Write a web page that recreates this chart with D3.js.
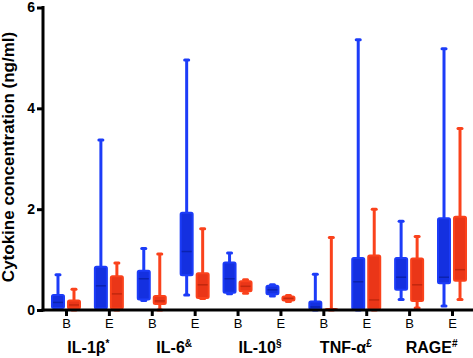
<!DOCTYPE html>
<html>
<head>
<meta charset="utf-8">
<script src="https://cdn.jsdelivr.net/npm/d3@7"></script>
<style>
  html, body { margin: 0; padding: 0; background: #fff; }
  svg { display: block; font-family: "Liberation Sans", Arial, sans-serif; }
</style>
</head>
<body>
<div id="chart"></div>
<script>
// categories and their footnote marks
const cytokines = ["IL-1β", "IL-6", "IL-10", "TNF-α", "RAGE"];
const marks = ["*", "&", "§", "£", "#"];
const timepoints = ["B", "E"];
const yTicks = [0, 2, 4, 6];

// box stats per position (cytokine x timepoint): [min, q1, median, q3, max], ng/ml
const blueStats = [
  [0.02, 0.04, 0.15, 0.30, 0.70],
  [0.01, 0.03, 0.48, 0.86, 3.37],
  [0.19, 0.21, 0.62, 0.78, 1.22],
  [0.30, 0.69, 1.16, 1.93, 4.96],
  [0.32, 0.34, 0.62, 0.94, 1.13],
  [0.28, 0.31, 0.40, 0.48, 0.50],
  [0.00, 0.02, 0.06, 0.17, 0.71],
  [0.00, 0.02, 0.56, 1.03, 5.36],
  [0.21, 0.40, 0.65, 1.03, 1.76],
  [0.08, 0.53, 0.65, 1.82, 5.18]
];
const redStats = [
  [0.00, 0.03, 0.10, 0.19, 0.41],
  [0.00, 0.03, 0.32, 0.67, 0.93],
  [0.00, 0.12, 0.18, 0.28, 1.11],
  [0.23, 0.24, 0.50, 0.73, 1.61],
  [0.33, 0.37, 0.47, 0.57, 0.60],
  [0.17, 0.19, 0.23, 0.27, 0.29],
  [0.00, 0.00, 0.01, 0.02, 1.44],
  [0.00, 0.02, 0.20, 1.08, 2.00],
  [0.04, 0.18, 0.50, 1.02, 1.46],
  [0.21, 0.58, 0.80, 1.85, 3.60]
];

const width = 473, height = 358;

const svg = d3.select("#chart")
  .append("svg")
  .attr("width", width)
  .attr("height", height);

// one position per cytokine/timepoint pair
const positions = [];
cytokines.forEach(c => timepoints.forEach(t => positions.push(c + "|" + t)));

const x = d3.scalePoint()
  .domain(positions)
  .range([43, 475])
  .padding(0.536);

const y = d3.scaleLinear()
  .domain([0, 6])
  .range([310, 7.5]);

const series = [
  {name: "blue", stats: blueStats, dx: -8, stroke: "#1c3cf8", fill: "#1430e0", med: "#0b22b0"},
  {name: "red", stats: redStats, dx: 8, stroke: "#fa421c", fill: "#ea3618", med: "#c2280e"}
];

const boxW = 12, capW = 4;

series.forEach(s => {
  const g = svg.append("g").attr("class", "series-" + s.name);
  const rows = s.stats.map((d, i) => ({pos: positions[i], v: d}));

  const grp = g.selectAll("g")
    .data(rows)
    .join("g")
    .attr("transform", d => `translate(${x(d.pos) + s.dx},0)`);

  // whisker
  grp.append("line")
    .attr("x1", 0).attr("x2", 0)
    .attr("y1", d => y(d.v[0]))
    .attr("y2", d => y(d.v[4]))
    .attr("stroke", s.stroke)
    .attr("stroke-width", 3);

  // caps
  grp.selectAll("line.cap")
    .data(d => [d.v[0], d.v[4]])
    .join("line")
    .attr("class", "cap")
    .attr("x1", -capW / 2).attr("x2", capW / 2)
    .attr("y1", v => y(v)).attr("y2", v => y(v))
    .attr("stroke", s.stroke)
    .attr("stroke-width", 3)
    .attr("stroke-linecap", "round");

  // box
  grp.append("rect")
    .attr("x", -boxW / 2)
    .attr("width", boxW)
    .attr("y", d => y(d.v[3]))
    .attr("height", d => Math.max(0.5, y(d.v[1]) - y(d.v[3])))
    .attr("rx", 1.5)
    .attr("fill", s.fill)
    .attr("stroke", s.stroke)
    .attr("stroke-width", 2);

  // median
  grp.append("line")
    .attr("x1", -boxW / 2 + 1).attr("x2", boxW / 2 - 1)
    .attr("y1", d => y(d.v[2])).attr("y2", d => y(d.v[2]))
    .attr("stroke", s.med)
    .attr("stroke-width", 1.5);
});

// y axis
const yAxis = svg.append("g")
  .attr("transform", "translate(43,0)")
  .call(d3.axisLeft(y).tickValues(yTicks).tickFormat(d3.format("d"))
    .tickSize(6).tickSizeOuter(0).tickPadding(2));
yAxis.select(".domain").attr("stroke-width", 3).attr("d", "M0,6V311.5");
yAxis.selectAll(".tick line").attr("stroke-width", 3);
yAxis.selectAll(".tick text")
  .attr("font-size", 14)
  .attr("font-weight", "bold")
  .attr("font-family", "Liberation Sans, Arial, sans-serif")
  .attr("fill", "#000");

// x axis
const xAxis = svg.append("g")
  .attr("transform", "translate(0,310)")
  .call(d3.axisBottom(x).tickSize(6).tickSizeOuter(0).tickPadding(3)
    .tickFormat(d => d.split("|")[1]));
xAxis.select(".domain").attr("stroke-width", 3).attr("d", "M41.5,0H475");
xAxis.selectAll(".tick line").attr("stroke-width", 3);
xAxis.selectAll(".tick text")
  .attr("font-size", 13)
  .attr("font-family", "Liberation Sans, Arial, sans-serif")
  .attr("fill", "#000");

// cytokine group labels
const catLabels = svg.append("g")
  .selectAll("text")
  .data(cytokines)
  .join("text")
  .attr("x", (c, i) => (x(c + "|B") + x(c + "|E")) / 2 + 1)
  .attr("y", 353)
  .attr("text-anchor", "middle")
  .attr("font-size", 16)
  .attr("font-weight", "bold");
catLabels.append("tspan").text(c => c);
catLabels.append("tspan")
  .attr("dy", -6)
  .attr("font-size", 10)
  .text((c, i) => marks[i]);

// y axis title
svg.append("text")
  .attr("transform", "translate(14,157) rotate(-90)")
  .attr("text-anchor", "middle")
  .attr("font-size", 17)
  .attr("font-weight", "bold")
  .text("Cytokine concentration (ng/ml)");
</script>
</body>
</html>
